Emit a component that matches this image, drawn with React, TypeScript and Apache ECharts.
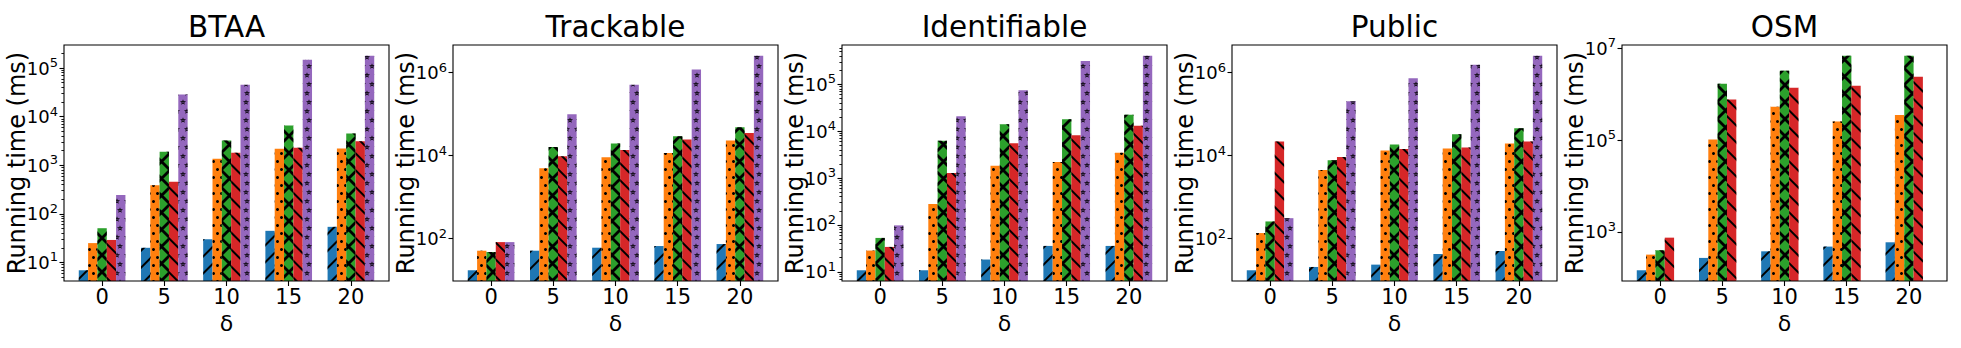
import React, { useEffect, useRef } from 'react';
import * as echarts from 'echarts';

// ---------- data ----------
const categories = ['0', '5', '10', '15', '20'];
const panelTitles = ['BTAA', 'Trackable', 'Identifiable', 'Public', 'OSM'];
const seriesColors = ['#1f77b4', '#ff7f0e', '#2ca02c', '#d62728', '#9467bd'];
const xAxisName = 'δ';
const yAxisName = 'Running time (ms)';

const btaaBlue = [6.9, 20, 30, 44.7, 54];
const btaaOrange = [25, 386, 1360, 2180, 2210];
const btaaGreen = [50.6, 1890, 3240, 6560, 4500];
const btaaRed = [29, 457, 1800, 2290, 3130];
const btaaPurple = [244, 28400, 45500, 148000, 179000];
const btaaTicks = [1e1, 1e2, 1e3, 1e4, 1e5];

const trackBlue = [17.4, 51.5, 60.8, 66.7, 74.5];
const trackOrange = [51.5, 4970, 9120, 11600, 23300];
const trackGreen = [47.9, 16100, 19800, 29600, 48800];
const trackRed = [83, 9640, 13700, 24700, 35000];
const trackPurple = [83, 100000, 515000, 1200000, 2560000];
const trackTicks = [1e2, 1e4, 1e6];

const identBlue = [10.8, 10.8, 18.3, 35.7, 35.7];
const identOrange = [28.4, 280, 1830, 2190, 3460];
const identGreen = [52.9, 6220, 14100, 18000, 22300];
const identRed = [34, 1280, 5560, 8220, 13000];
const identPurple = [98, 20800, 74500, 313000, 407000];
const identTicks = [1e1, 1e2, 1e3, 1e4, 1e5];

const publicBlue = [17.4, 20.9, 23.8, 42.9, 50.6];
const publicOrange = [137, 4530, 13400, 15000, 19800];
const publicGreen = [261, 7730, 18700, 33100, 46100];
const publicRed = [22100, 9290, 14500, 15800, 22100];
const publicPurple = [313, 205000, 731000, 1560000, 2560000];
const publicTicks = [1e2, 1e4, 1e6];

const osmBlue = [147, 273, 380, 481, 597];
const osmOrange = [322, 102600, 533000, 252000, 351000];
const osmGreen = [400, 1680000, 3220000, 6820000, 6820000];
const osmRed = [753, 757000, 1380000, 1520000, 2390000];
const osmTicks = [1e3, 1e5, 1e7];

const panels = [
  { title: panelTitles[0], values: [btaaBlue, btaaOrange, btaaGreen, btaaRed, btaaPurple], ticks: btaaTicks, minor: true },
  { title: panelTitles[1], values: [trackBlue, trackOrange, trackGreen, trackRed, trackPurple], ticks: trackTicks, minor: false },
  { title: panelTitles[2], values: [identBlue, identOrange, identGreen, identRed, identPurple], ticks: identTicks, minor: true },
  { title: panelTitles[3], values: [publicBlue, publicOrange, publicGreen, publicRed, publicPurple], ticks: publicTicks, minor: false },
  { title: panelTitles[4], values: [osmBlue, osmOrange, osmGreen, osmRed, null], ticks: osmTicks, minor: false },
];

// ---------- styling ----------
const FONT = 'DejaVu Sans';
const GRID_LEFTS = [64, 453, 842, 1232, 1622];
const GRID_TOP = 45;
const GRID_W = 325;
const GRID_H = 236;

const xPath = 'path://M0,0L2,0L17,15L17,17L15,17L0,2Z M17,0L17,2L2,17L0,17L0,15L15,0Z';
const starPath =
  'path://M50,0 L61.23,34.55 L97.55,34.55 L68.16,55.9 L79.39,90.45 L50,69.1 L20.61,90.45 L31.84,55.9 L2.45,34.55 L38.77,34.55 Z ' +
  'M50,35 L46.63,45.37 L35.73,45.37 L44.55,51.77 L41.18,62.14 L50,55.73 L58.82,62.14 L55.45,51.77 L64.27,45.37 L53.37,45.37 Z';

const decals: any[] = [
  { symbol: 'rect', symbolSize: 1, color: '#000', dashArrayX: [1, 0], dashArrayY: [2, 10], rotation: -Math.PI / 4 },
  { symbol: 'circle', symbolSize: 1, color: '#000', dashArrayX: [[3, 5], [0, 4, 3, 1]], dashArrayY: [3, 5], rotation: 0 },
  { symbol: xPath, symbolSize: 1, color: '#000', dashArrayX: [17, 0], dashArrayY: [17, 0], rotation: 0 },
  { symbol: 'rect', symbolSize: 1, color: '#000', dashArrayX: [1, 0], dashArrayY: [2, 10], rotation: Math.PI / 4 },
  { symbol: starPath, symbolSize: 1, color: '#000', dashArrayX: [[6, 3], [0, 4, 6, 0]], dashArrayY: [6, 3], rotation: 0 },
];

function logLimits(values: (number[] | null)[]) {
  let lo = Infinity;
  let hi = -Infinity;
  values.forEach((arr) => {
    if (!arr) return;
    arr.forEach((v) => {
      const l = Math.log10(v);
      if (l < lo) lo = l;
      if (l > hi) hi = l;
    });
  });
  const pad = 0.05 * (hi - lo);
  return [Math.pow(10, lo - pad), Math.pow(10, hi + pad)];
}

function minorTicks(min: number, max: number) {
  const out: number[] = [];
  for (let e = Math.floor(Math.log10(min)); e <= Math.ceil(Math.log10(max)); e++) {
    for (let m = 2; m <= 9; m++) {
      const v = m * Math.pow(10, e);
      if (v >= min && v <= max) out.push(v);
    }
  }
  return out;
}

function buildOption() {
  const grid: any[] = [];
  const xAxis: any[] = [];
  const yAxis: any[] = [];
  const series: any[] = [];
  const graphic: any[] = [];
  const minorAxes: any[] = [];

  panels.forEach((p, i) => {
    const [ymin, ymax] = logLimits(p.values);
    grid.push({
      left: GRID_LEFTS[i],
      top: GRID_TOP,
      width: GRID_W,
      height: GRID_H,
      show: true,
      borderColor: '#000',
      borderWidth: 1.1,
      backgroundColor: 'transparent',
      z: 5,
      containLabel: false,
      outerBoundsMode: 'none',
    });
    xAxis.push({
      type: 'value',
      gridIndex: i,
      min: -0.6125,
      max: 4.6125,
      axisLine: { show: false, onZero: false },
      splitLine: { show: false },
      axisTick: { show: true, customValues: [0, 1, 2, 3, 4], length: 5, lineStyle: { color: '#000', width: 1.1 } },
      axisLabel: {
        customValues: [0, 1, 2, 3, 4],
        formatter: (v: number) => categories[Math.round(v)] ?? '',
        fontSize: 21,
        fontFamily: FONT,
        color: '#000',
        margin: 5,
      },
      name: xAxisName,
      nameLocation: 'middle',
      nameGap: 31,
      nameTextStyle: { fontSize: 22, fontFamily: FONT, color: '#000' },
    });
    yAxis.push({
      type: 'log',
      gridIndex: i,
      position: 'left',
      min: ymin,
      max: ymax,
      axisLine: { show: false, onZero: false },
      splitLine: { show: false },
      axisTick: { show: true, customValues: p.ticks, length: 4.5, lineStyle: { color: '#000', width: 1.1 } },
      axisLabel: {
        customValues: p.ticks,
        formatter: (v: number) => `{b|10}{s|${Math.round(Math.log10(v))}}`,
        margin: 6,
        rich: {
          b: { fontSize: 18, lineHeight: 18, fontFamily: FONT, color: '#000' },
          s: { fontSize: 13, lineHeight: 13, fontFamily: FONT, color: '#000', padding: [0, 0, 11, 0] },
        },
      },
      name: yAxisName,
      nameLocation: 'middle',
      nameGap: 35,
      nameMoveOverlap: false,
      nameTextStyle: { fontSize: 24, fontFamily: FONT, color: '#000' },
    });
    if (p.minor) {
      minorAxes.push({
        type: 'log',
        gridIndex: i,
        position: 'left',
        min: ymin,
        max: ymax,
        axisLine: { show: false, onZero: false },
        splitLine: { show: false },
        axisLabel: { show: false },
        axisTick: { show: true, customValues: minorTicks(ymin, ymax), length: 2.6, lineStyle: { color: '#000', width: 0.9 } },
      });
    }
    p.values.forEach((vals, s) => {
      series.push({
        type: 'bar',
        xAxisIndex: i,
        yAxisIndex: i,
        barWidth: '15%',
        barGap: '0%',
        silent: true,
        clip: true,
        itemStyle: { color: seriesColors[s], decal: decals[s] },
        data: vals ? vals.map((v, k) => [k, v]) : [],
      });
    });
    graphic.push({
      type: 'text',
      x: GRID_LEFTS[i] + GRID_W / 2,
      y: 27,
      style: {
        text: p.title,
        fontSize: 29.5,
        fontFamily: FONT,
        fill: '#000',
        align: 'center',
        verticalAlign: 'middle',
        textAlign: 'center',
        textVerticalAlign: 'middle',
      },
    });
  });

  return {
    animation: false,
    backgroundColor: '#fff',
    grid,
    xAxis,
    yAxis: yAxis.concat(minorAxes),
    series,
    graphic: { elements: graphic },
  };
}

export default function App() {
  const ref = useRef<HTMLDivElement>(null);
  useEffect(() => {
    if (!ref.current) return;
    const chart = echarts.init(ref.current, null, { renderer: 'svg' });
    chart.setOption(buildOption() as any);
    return () => chart.dispose();
  }, []);
  return <div ref={ref} style={{ position: 'fixed', left: 0, top: 0, width: 1961, height: 348 }} />;
}
